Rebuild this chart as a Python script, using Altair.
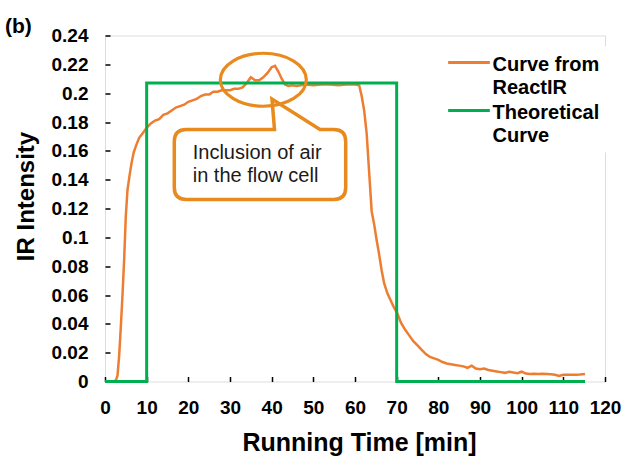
import altair as alt
import pandas as pd

# ---------------- data ----------------
series_names = ["Curve from ReactIR", "Theoretical Curve"]

react_t = [2.0, 2.6, 3.0, 3.4, 3.8, 4.2, 4.6, 5.0, 5.4, 5.9, 6.4, 6.9, 7.5, 8.2, 9.0,
           10.0, 11.0, 12.0, 13.0, 14.0, 15.0, 16.0, 17.0, 18.0, 19.0, 20.0, 21.0, 22.0,
           23.0, 24.0, 25.0, 26.0, 27.0, 28.0, 29.0, 30.0, 31.0, 32.0, 33.0, 34.0, 35.0,
           36.0, 37.0, 38.0, 39.0, 40.0, 40.8, 41.6, 42.4, 43.2, 44.0, 45.0, 46.0, 47.0,
           48.0, 50.0, 52.0, 54.0, 56.0, 58.0, 60.0, 61.0, 61.6, 62.2, 62.8, 63.4, 64.0,
           64.6, 65.2, 65.8, 66.4, 67.0, 67.8, 68.6, 69.4, 70.2, 71.0, 72.0, 73.0, 74.0,
           75.0, 76.0, 77.0, 78.0, 79.0, 80.0, 81.0, 82.0, 83.0, 84.0, 85.0, 86.0, 87.0,
           88.0, 89.0, 90.0, 91.0, 92.0, 93.0, 94.0, 95.0, 96.0, 97.0, 98.0, 99.0, 100.0,
           101.0, 102.0, 103.0, 104.0, 105.0, 106.0, 107.0, 108.0, 109.0, 110.0, 111.0,
           112.0, 113.0, 114.0, 115.2]
react_v = [0.0, 0.0008, 0.004, 0.018, 0.038, 0.06, 0.085, 0.115, 0.133, 0.143, 0.152,
           0.159, 0.164, 0.169, 0.172, 0.176, 0.179, 0.181, 0.182, 0.185, 0.186, 0.188,
           0.190, 0.191, 0.192, 0.194, 0.195, 0.196, 0.198, 0.199, 0.199, 0.201, 0.201,
           0.202, 0.202, 0.202, 0.203, 0.203, 0.204, 0.207, 0.211, 0.209, 0.209, 0.211,
           0.214, 0.218, 0.219, 0.215, 0.210, 0.206, 0.205, 0.2055, 0.205, 0.2055, 0.206,
           0.2055, 0.206, 0.206, 0.2055, 0.206, 0.206, 0.2055, 0.198, 0.188, 0.172, 0.145,
           0.118, 0.109, 0.098, 0.088, 0.077, 0.068, 0.061, 0.056, 0.051, 0.047, 0.041,
           0.036, 0.032, 0.028, 0.025, 0.022, 0.019, 0.017, 0.016, 0.015, 0.0135, 0.0125,
           0.012, 0.0115, 0.011, 0.0105, 0.0095, 0.011, 0.009, 0.0085, 0.009, 0.008,
           0.0075, 0.007, 0.0065, 0.006, 0.0068, 0.0062, 0.0058, 0.0068, 0.0055, 0.0052,
           0.0053, 0.0052, 0.0053, 0.0052, 0.005, 0.0047, 0.0038, 0.0046, 0.0047, 0.0047,
           0.0046, 0.0048, 0.0052]

theo_t = [0, 10, 10, 70, 70, 115.2]
theo_v = [0, 0, 0.207, 0.207, 0, 0]

x_ticks = [0, 10, 20, 30, 40, 50, 60, 70, 80, 90, 100, 110, 120]
y_ticks = [0, 0.02, 0.04, 0.06, 0.08, 0.1, 0.12, 0.14, 0.16, 0.18, 0.2, 0.22, 0.24]

annot_label = "Inclusion of air\nin the flow cell"
annot_text_pos = (21.05, 0.1543)      # data coords of text start
ellipse_pos = (38.0, 0.2093)          # circled region
callout_pos = (37.2, 0.1505)          # callout box centre

# ---------------- styling ----------------
ORANGE = "#ED7D31"
ORANGE_ANN = "#E98A1E"
GREEN = "#00B050"
FONT = "Liberation Sans"

rows = []
for i, (t, v) in enumerate(zip(react_t, react_v)):
    rows.append({"series": series_names[0], "t": t, "v": v, "idx": i})
for i, (t, v) in enumerate(zip(theo_t, theo_v)):
    rows.append({"series": series_names[1], "t": t, "v": v, "idx": i})
df = pd.DataFrame(rows)

x_enc = alt.X("t:Q",
              scale=alt.Scale(domain=[0, 120], nice=False, zero=False),
              axis=alt.Axis(values=x_ticks, title="Running Time [min]", offset=-5,
                            tickSize=5, tickWidth=1.5, tickColor="black", domain=False,
                            grid=False, labelPadding=17, labelFontSize=19,
                            labelFontWeight="bold", labelColor="black", labelFont=FONT,
                            labelFlush=False, labelOverlap=False,
                            titleFontSize=25, titleFontWeight="bold", titleFont=FONT,
                            titleColor="black", titleBaseline="alphabetic",
                            titleY=74, titleX=254))
y_enc = alt.Y("v:Q",
              scale=alt.Scale(domain=[0, 0.24], nice=False, zero=False),
              axis=alt.Axis(values=y_ticks, format="~g", title="IR Intensity", offset=-5,
                            tickSize=5, tickWidth=1.5, tickColor="black", domain=False,
                            grid=False, labelPadding=17, labelFontSize=19,
                            labelFontWeight="bold", labelColor="black", labelFont=FONT,
                            labelFlush=False, labelOverlap=False,
                            titleFontSize=24, titleFontWeight="bold", titleFont=FONT,
                            titleColor="black", titleBaseline="alphabetic",
                            titleX=-77, titleY=160.5, titleAngle=270))

legend = alt.Legend(title=None, orient="none", legendX=346, legendY=11,
                    labelExpr="[slice(datum.label, 0, lastindexof(datum.label, ' ')), "
                              "slice(datum.label, lastindexof(datum.label, ' ') + 1)]",
                    symbolType="M-2,-0.19L2,-0.19", symbolSize=435, symbolStrokeWidth=3,
                    labelFontSize=20, labelFontWeight="bold", labelFont=FONT,
                    labelColor="black", labelOffset=11.5, labelLimit=300,
                    labelBaseline="middle", fillColor="white", padding=6,
                    rowPadding=2)

color_enc = alt.Color("series:N", scale=alt.Scale(domain=series_names, range=[ORANGE, GREEN]),
                      legend=legend)

react_line = alt.Chart(df).transform_filter(
    alt.datum.series == series_names[0]
).mark_line(strokeWidth=2.5).encode(
    x=x_enc, y=y_enc, color=color_enc, order=alt.Order("idx:Q"))

theo_line = alt.Chart(df).transform_filter(
    alt.datum.series == series_names[1]
).mark_line(strokeWidth=3).encode(
    x=x_enc, y=y_enc, color=color_enc, order=alt.Order("idx:Q"))

# ellipse around the spike (custom symbol path, size=4 -> 1 unit = 1 px)
ellipse_path = ("M-43,0 C-43,-14.6 -23.7,-26.5 0,-26.5 C23.7,-26.5 43,-14.6 43,0 "
                "C43,14.6 23.7,26.5 0,26.5 C-23.7,26.5 -43,14.6 -43,0 Z")
ell_df = pd.DataFrame({"t": [ellipse_pos[0]], "v": [ellipse_pos[1]]})
ellipse = alt.Chart(ell_df).mark_point(
    shape=ellipse_path, size=4, filled=False, stroke=ORANGE_ANN, strokeWidth=3.2,
    opacity=1, strokeOpacity=1
).encode(x=x_enc, y=y_enc)

callout_path = ("M-73.7,-35 L14.5,-35 L12,-65.5 L60,-35 L73.7,-35 Q85.7,-35 85.7,-23 "
                "L85.7,23 Q85.7,35 73.7,35 L-73.7,35 Q-85.7,35 -85.7,23 L-85.7,-23 "
                "Q-85.7,-35 -73.7,-35 Z")
call_df = pd.DataFrame({"t": [callout_pos[0]], "v": [callout_pos[1]]})
callout = alt.Chart(call_df).mark_point(
    shape=callout_path, size=4, filled=True, fill="white", stroke=ORANGE_ANN,
    strokeWidth=3.5, opacity=1, fillOpacity=1, strokeOpacity=1, strokeJoin="miter"
).encode(x=x_enc, y=y_enc)

txt_df = pd.DataFrame({"t": [annot_text_pos[0]], "v": [annot_text_pos[1]],
                       "label": [annot_label]})
annot_text = alt.Chart(txt_df).mark_text(
    align="left", baseline="alphabetic", fontSize=20, font=FONT, color="#1a1a1a",
    lineBreak="\n", lineHeight=22.7
).encode(x=x_enc, y=y_enc, text="label:N")

chart = alt.layer(react_line, theo_line, callout, ellipse, annot_text).properties(
    width=500, height=346,
    title=alt.TitleParams("(b)", anchor="start", frame="group", fontSize=21,
                          fontWeight="bold", font=FONT, color="black", dx=-100, dy=27,
                          offset=0, baseline="alphabetic"),
    autosize=alt.AutoSizeParams(type="none"),
    padding={"left": 105, "top": 35.5, "right": 21, "bottom": 75.5},
).configure_view(stroke="black", strokeWidth=1.5).configure(
    style={"guide-label": {"lineHeight": 23.3}}
)

chart.save("out.html", embed_options={"renderer": "svg", "actions": False})
